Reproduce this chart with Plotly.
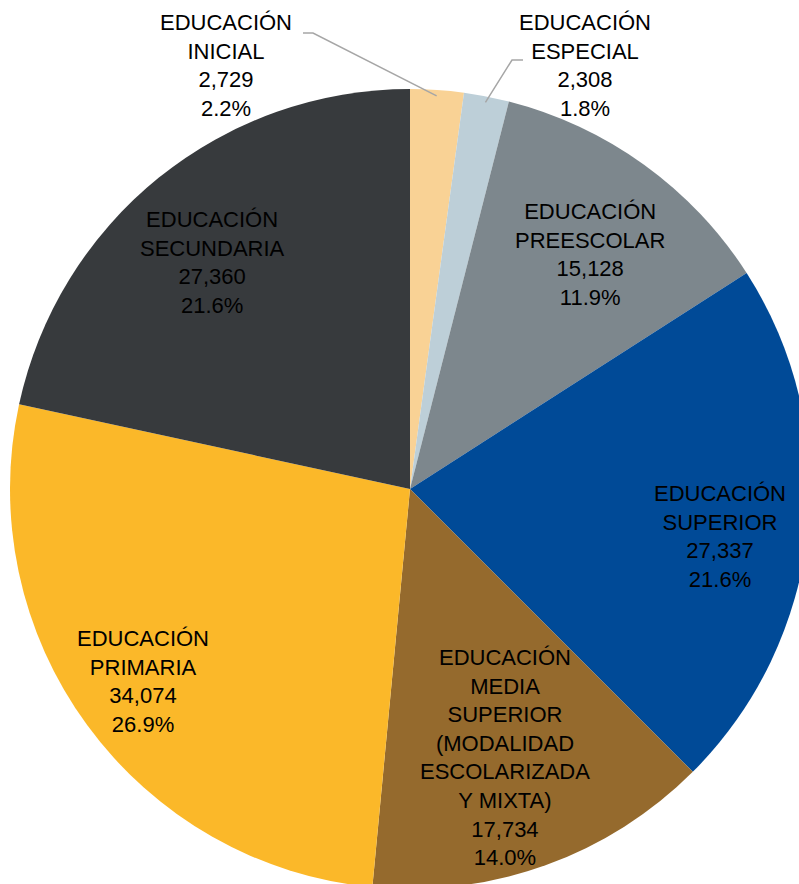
import math
import plotly.graph_objects as go

# ---- data ----
labels = ["EDUCACIÓN<br>INICIAL", "EDUCACIÓN<br>ESPECIAL", "EDUCACIÓN<br>PREESCOLAR",
          "EDUCACIÓN<br>SUPERIOR",
          "EDUCACIÓN<br>MEDIA<br>SUPERIOR<br>(MODALIDAD<br>ESCOLARIZADA<br>Y MIXTA)",
          "EDUCACIÓN<br>PRIMARIA", "EDUCACIÓN<br>SECUNDARIA"]
values = [2729, 2308, 15128, 27337, 17734, 34074, 27360]
colors = ["#F9D295", "#BDCFD8", "#7D878D", "#004A97", "#956A2D", "#FBB829", "#373A3D"]

# ---- layout constants (label placement) ----
label_radius = [None, None, 0.74, 0.784, 0.711, 0.823, 0.75]   # fraction of pie radius
label_dang = [0, 0, 1.7, 2.6, 0.3, 0.4, -2.2]                  # degrees nudge from mid-angle
outside_pos = {0: (226, 66), 1: (585, 66)}                     # px centres for small slices
elbows = {0: ((303, 33), (313, 33)), 1: ((523, 60), (512, 60))}

W, H = 820, 900
ML, MR, MT, MB = 10, 10, 89, 11
PW, PH = W - ML - MR, H - MT - MB


def px2paper(px, py):
    return (px - ML) / PW, (H - MB - py) / PH


total = sum(values)
fig = go.Figure(go.Pie(
    labels=labels, values=values, sort=False, direction="clockwise", rotation=0,
    marker=dict(colors=colors, line=dict(width=0)), textinfo="none",
    hoverinfo="label+value+percent", showlegend=False,
))

annotations = []
shapes = []
cum = 0
for i, v in enumerate(values):
    mid = (cum + v / 2) / total * 2 * math.pi
    cum += v
    pct = v / total * 100
    txt = f"{labels[i]}<br>{v:,}<br>{pct:.1f}%"
    if label_radius[i] is not None:
        f = label_radius[i]
        ang = mid + math.radians(label_dang[i])
        x = 0.5 + 0.5 * f * math.sin(ang)
        y = 0.5 + 0.5 * f * math.cos(ang)
    else:
        x, y = px2paper(*outside_pos[i])
        ex = 0.5 + 0.5 * 0.985 * math.sin(mid)
        ey = 0.5 + 0.5 * 0.985 * math.cos(mid)
        (p1, p2) = elbows[i]
        a = px2paper(*p1)
        b = px2paper(*p2)
        shapes.append(dict(type="path", xref="paper", yref="paper",
                           path=f"M {a[0]} {a[1]} L {b[0]} {b[1]} L {ex} {ey}",
                           line=dict(color="#A6A6A6", width=1.5)))
    annotations.append(dict(x=x, y=y, xref="paper", yref="paper", text=txt,
                            showarrow=False, xanchor="center", yanchor="middle",
                            align="center",
                            font=dict(family="Liberation Sans, Arial", size=22, color="#000000")))

fig.update_layout(
    width=W, height=H, autosize=False,
    margin=dict(l=ML, r=MR, t=MT, b=MB),
    paper_bgcolor="white", plot_bgcolor="white",
    annotations=annotations, shapes=shapes,
)

fig.write_html("out.html", config={"displayModeBar": False},
               post_script="document.body.style.margin='0px';document.body.style.overflow='hidden';"
                           "document.documentElement.style.overflow='hidden';")
